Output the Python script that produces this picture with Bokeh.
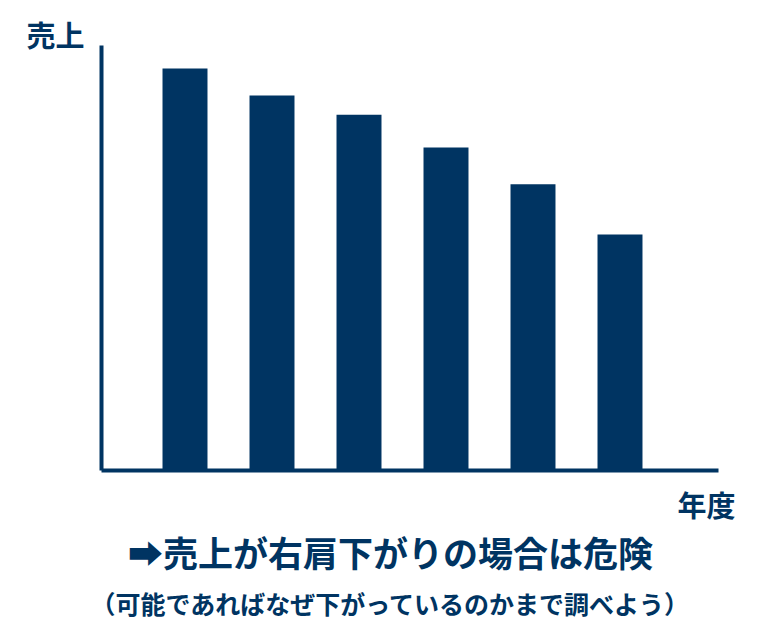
from bokeh.plotting import figure
from bokeh.models import Label, Range1d, ColumnDataSource
from bokeh.embed import file_html
from bokeh.resources import INLINE

# data
years = [1, 2, 3, 4, 5, 6]
sales = [94.6, 88.2, 83.7, 76.0, 67.3, 55.5]

y_label = "売上"
x_label = "年度"
headline = "➡売上が右肩下がりの場合は危険"
note = "（可能であればなぜ下がっているのかまで調べよう）"

# axis extents (data units)
x_axis_start, x_axis_end = 0.0402, 7.132
y_axis_start, y_axis_end = 0, 100

NAVY = "#003462"
FONT = "Noto Sans CJK JP, DejaVu Sans"
W, H = 772, 634

p = figure(width=W, height=H, output_backend="svg", toolbar_location=None,
           x_range=Range1d(-1.1207, 7.7529), y_range=Range1d(-38.75, 110.6),
           min_border=0)
p.outline_line_color = None
p.xgrid.visible = False
p.ygrid.visible = False
p.background_fill_color = "white"
p.border_fill_color = "white"

src = ColumnDataSource(dict(x=years, top=sales))
p.vbar(x="x", top="top", bottom=0, width=0.517, source=src,
       fill_color=NAVY, line_color=None)

p.xaxis.fixed_location = y_axis_start
p.xaxis.bounds = (x_axis_start, x_axis_end)
p.yaxis.fixed_location = x_axis_start
p.yaxis.bounds = (y_axis_start, y_axis_end)
for ax in (p.xaxis[0], p.yaxis[0]):
    ax.axis_line_color = NAVY
    ax.axis_line_width = 4
    ax.major_tick_line_color = None
    ax.minor_tick_line_color = None
    ax.major_label_text_font_size = "0px"
    ax.ticker = []

def lab(x, y, t, size, align="left"):
    p.add_layout(Label(x=x, y=H - y, x_units="screen", y_units="screen", text=t,
                       text_font=FONT, text_font_style="bold",
                       text_font_size=size, text_color=NAVY,
                       text_align=align, text_baseline="middle"))

lab(26, 33.5, y_label, "29px")
lab(677, 503.5, x_label, "29px")
lab(390, 551, headline, "35px", "center")
lab(390, 602.5, note, "25px", "center")

open("out.html", "w").write(file_html(p, INLINE))
